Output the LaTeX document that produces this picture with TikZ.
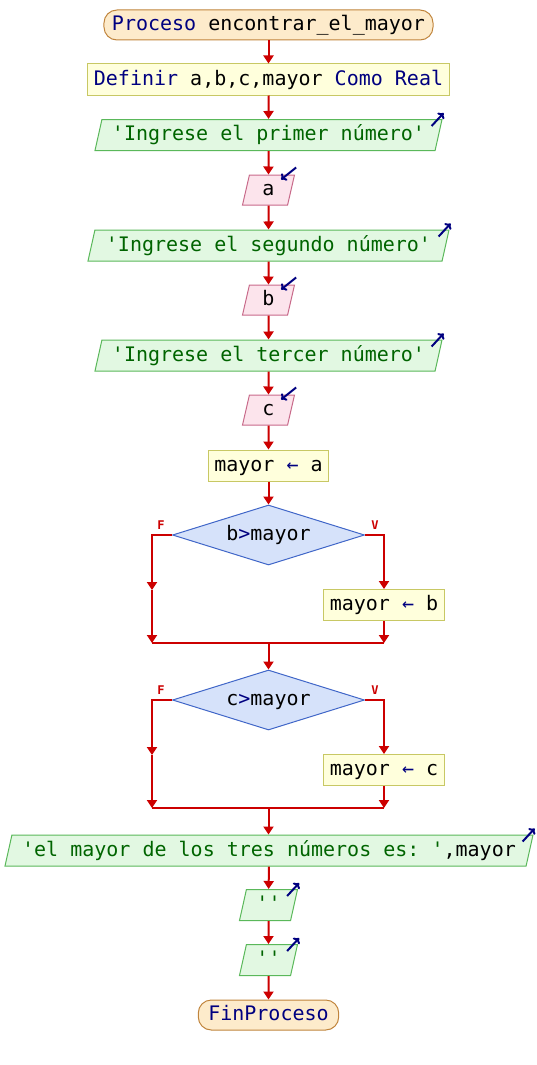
\documentclass[tikz,border=0pt]{standalone}
\usepackage{fontspec}
\setmonofont{DejaVu Sans Mono}
\usetikzlibrary{shapes.geometric, arrows.meta, calc}

\definecolor{rojo}{HTML}{CC0000}
\definecolor{azul}{HTML}{000080}
\definecolor{verde}{HTML}{006400}
\definecolor{procfill}{HTML}{FDEBCB}
\definecolor{procdraw}{HTML}{C0843C}
\definecolor{accfill}{HTML}{FFFFDC}
\definecolor{accdraw}{HTML}{C8C864}
\definecolor{salfill}{HTML}{E2F8E2}
\definecolor{saldraw}{HTML}{5AB85A}
\definecolor{entfill}{HTML}{FCE4EC}
\definecolor{entdraw}{HTML}{C86A8A}
\definecolor{decfill}{HTML}{D6E2FA}
\definecolor{decdraw}{HTML}{4066C8}

\tikzset{
  texto/.style={font=\ttfamily\fontsize{20}{24}\selectfont, text height=15pt, text depth=4pt,
    line width=1pt},
  proceso/.style={texto, draw=procdraw, fill=procfill, rounded corners=13pt,
    minimum height=30pt, inner xsep=8pt, text=azul},
  accion/.style={texto, draw=accdraw, fill=accfill, minimum height=31pt, inner xsep=6pt},
  paralelo/.style={texto, trapezium, trapezium left angle=70, trapezium right angle=110,
    trapezium stretches body=true, inner sep=0pt},
  salida/.style={paralelo, draw=saldraw, fill=salfill, minimum height=31pt, text=verde},
  entrada/.style={paralelo, draw=entdraw, fill=entfill, minimum height=30pt, minimum width=52pt},
  decision/.style={texto, diamond, aspect=3.2, draw=decdraw, fill=decfill,
    minimum width=192pt, minimum height=60pt, inner sep=0pt},
  etiq/.style={font=\ttfamily\bfseries\fontsize{12}{14}\selectfont, text=rojo, inner sep=0pt},
  linea/.style={draw=rojo, line width=2pt},
  flecha/.style={linea, -{Triangle[width=10pt,length=8pt]}},
  icono/.style={draw=azul, line width=2pt, -{To[length=5pt,width=9pt]}},
}

\begin{document}
\begin{tikzpicture}[x=1pt, y=-1pt]
  \useasboundingbox (0,0) rectangle (536,1065);
  % Cabecera y definiciones
  \node[proceso] (ini) at (268.5,25) {Proceso \textcolor{black}{encontrar\_el\_mayor}};
  \node[accion] (def) at (268.5,79.5) {\textcolor{azul}{Definir} a,b,c,mayor \textcolor{azul}{Como Real}};
  % Lectura de los tres numeros
  \node[salida, minimum width=347pt] (e1) at (268.5,135) {'Ingrese el primer número'};
  \node[entrada] (la) at (268.5,190) {a};
  \node[salida, minimum width=361pt] (e2) at (268.5,245.5) {'Ingrese el segundo número'};
  \node[entrada] (lb) at (268.5,300) {b};
  \node[salida, minimum width=347pt] (e3) at (268.5,355.5) {'Ingrese el tercer número'};
  \node[entrada] (lc) at (268.5,410) {c};
  \node[accion] (m1) at (268.5,465.5) {mayor \textcolor{azul}{←} a};
  % Primera comparacion
  \node[decision] (d1) at (268.5,535) {b\textcolor{azul}{>}mayor};
  \node[etiq] (f1) at (161,525) {F};
  \node[etiq] (v1) at (375,525) {V};
  \node[accion] (m2) at (384,605) {mayor \textcolor{azul}{←} b};
  \coordinate (pf1) at (152,590);
  \coordinate (jf1) at (152,643);
  \coordinate (jv1) at (384,643);
  \coordinate (j1) at (268.5,643);
  % Segunda comparacion
  \node[decision] (d2) at (268.5,700) {c\textcolor{azul}{>}mayor};
  \node[etiq] (f2) at (161,690) {F};
  \node[etiq] (v2) at (375,690) {V};
  \node[accion] (m3) at (384,770) {mayor \textcolor{azul}{←} c};
  \coordinate (pf2) at (152,755);
  \coordinate (jf2) at (152,808);
  \coordinate (jv2) at (384,808);
  \coordinate (j2) at (268.5,808);
  % Resultado y fin
  \node[salida, minimum width=528pt] (s1) at (269,850.5) {'el mayor de los tres números es: '\textcolor{black}{,mayor}};
  \node[salida, minimum width=58pt] (s2) at (268.5,905) {''};
  \node[salida, minimum width=58pt] (s3) at (268.5,960) {''};
  \node[proceso, inner xsep=10pt] (fin) at (268.5,1015) {FinProceso};
  % Flujo principal
  \draw[flecha] (ini) -- (def);
  \draw[flecha] (def) -- (e1);
  \draw[flecha] (e1) -- (la);
  \draw[flecha] (la) -- (e2);
  \draw[flecha] (e2) -- (lb);
  \draw[flecha] (lb) -- (e3);
  \draw[flecha] (e3) -- (lc);
  \draw[flecha] (lc) -- (m1);
  \draw[flecha] (m1) -- (d1);
  % Ramas de d1
  \draw[flecha] (d1.west) -| (pf1);
  \draw[flecha] (pf1) -- (jf1);
  \draw[flecha] (d1.east) -| (m2.north);
  \draw[flecha] (m2.south) -- (jv1);
  \draw[linea] (jf1) -- (jv1);
  \draw[flecha] (j1) -- (d2.north);
  % Ramas de d2
  \draw[flecha] (d2.west) -| (pf2);
  \draw[flecha] (pf2) -- (jf2);
  \draw[flecha] (d2.east) -| (m3.north);
  \draw[flecha] (m3.south) -- (jv2);
  \draw[linea] (jf2) -- (jv2);
  \draw[flecha] (j2) -- (j2 |- s1.north);
  \draw[flecha] (s1) -- (s2);
  \draw[flecha] (s2) -- (s3);
  \draw[flecha] (s3) -- (fin);
  % Iconos de entrada/salida
  \foreach \s in {e1,e2,e3,s1,s2,s3}
    \draw[icono] ($(\s.top right corner)+(-11,7)$) -- ++(12,-13);
  \foreach \s in {la,lb,lc}
    \draw[icono] ($(\s.top right corner)+(1,-7)$) -- ++(-15,12);
\end{tikzpicture}
\end{document}
